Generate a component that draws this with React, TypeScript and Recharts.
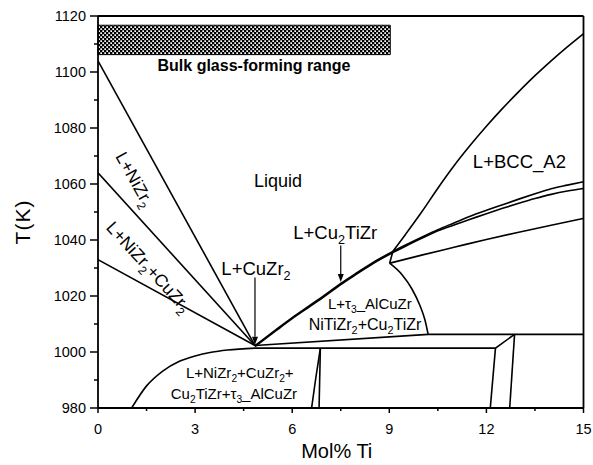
import React from 'react';
import {
    ComposedChart, Line, XAxis, YAxis, ReferenceArea, ReferenceLine, ReferenceDot
} from 'recharts';

const FONT = '"Liberation Sans", Arial, Helvetica, sans-serif';

// axis ticks (majors get a label, the rest are minor marks)
const xTicks = [0, 1.5, 3, 4.5, 6, 7.5, 9, 10.5, 12, 13.5, 15];
const yTicks = [980, 990, 1000, 1010, 1020, 1030, 1040, 1050, 1060, 1070, 1080, 1090, 1100, 1110, 1120];

// phase boundaries, x = mol% Ti, t = temperature (K)
const liqNiZr2 = [{ x: 0, t: 1104 }, { x: 4.85, t: 1002.3 }];
const liqNiZr2CuZr2 = [{ x: 0, t: 1064 }, { x: 4.85, t: 1002.3 }];
const liqCuZr2 = [{ x: 0, t: 1033 }, { x: 4.85, t: 1002.3 }];
const liqCu2TiZrA = [
    { x: 4.85, t: 1002.3 }, { x: 5.5, t: 1008 }, { x: 6, t: 1012.3 }, { x: 6.5, t: 1016.3 },
    { x: 7, t: 1020.3 }, { x: 7.5, t: 1024.5 }, { x: 8, t: 1028.3 }, { x: 8.5, t: 1032 },
    { x: 9.11, t: 1035.9 }, { x: 9.5, t: 1038.2 }, { x: 10, t: 1041 }, { x: 10.5, t: 1043.7 },
    { x: 11, t: 1046.1 }, { x: 11.5, t: 1048.5 }, { x: 12, t: 1050.6 }, { x: 12.5, t: 1052.6 },
    { x: 13, t: 1054.6 }, { x: 13.5, t: 1056.5 }, { x: 14, t: 1058.3 }, { x: 14.5, t: 1059.6 },
    { x: 15, t: 1060.8 },
];
const liqCu2TiZrB = [
    { x: 4.85, t: 1001.9 }, { x: 5.5, t: 1007.6 }, { x: 6, t: 1011.9 }, { x: 6.5, t: 1015.9 },
    { x: 7, t: 1019.9 }, { x: 7.5, t: 1024.1 }, { x: 8, t: 1027.9 }, { x: 8.5, t: 1031.6 },
    { x: 9.11, t: 1035.5 }, { x: 9.5, t: 1037.8 }, { x: 10, t: 1040.6 }, { x: 10.5, t: 1043.3 },
    { x: 11, t: 1045.4 }, { x: 11.5, t: 1047.4 }, { x: 12, t: 1049.4 }, { x: 12.5, t: 1051.3 },
    { x: 13, t: 1053.1 }, { x: 13.5, t: 1054.8 }, { x: 14, t: 1056.3 }, { x: 14.5, t: 1057.5 },
    { x: 15, t: 1058.4 },
];
const liqBcc = [
    { x: 9.11, t: 1035.9 }, { x: 9.5, t: 1042 }, { x: 10, t: 1050 }, { x: 10.5, t: 1058.5 },
    { x: 11, t: 1066.5 }, { x: 11.5, t: 1073.8 }, { x: 12, t: 1080.6 }, { x: 12.5, t: 1087 },
    { x: 13, t: 1093 }, { x: 13.5, t: 1098.7 }, { x: 14, t: 1104 }, { x: 14.5, t: 1109 },
    { x: 15, t: 1113.7 },
];
const tau3Upper = [
    { x: 9.01, t: 1031.7 }, { x: 10, t: 1034.6 }, { x: 11, t: 1037.4 }, { x: 12, t: 1040.2 },
    { x: 13, t: 1042.8 }, { x: 14, t: 1045.3 }, { x: 15, t: 1047.7 },
];
const junction = [{ x: 9.01, t: 1031.7 }, { x: 9.11, t: 1035.9 }];
const tau3Right = [
    { x: 9.01, t: 1031.7 }, { x: 9.4, t: 1027.5 }, { x: 9.7, t: 1022.5 }, { x: 9.95, t: 1016.5 },
    { x: 10.1, t: 1011.5 }, { x: 10.2, t: 1006.3 },
];
const upperSolidus = [{ x: 4.85, t: 1002.3 }, { x: 10.2, t: 1006.3 }, { x: 15, t: 1006.3 }];
const lowerSolidusCurve = [
    { x: 1.04, t: 980 }, { x: 1.5, t: 987.9 }, { x: 2, t: 993.2 }, { x: 2.5, t: 996.6 },
    { x: 3, t: 998.6 }, { x: 3.5, t: 999.9 }, { x: 4, t: 1000.7 }, { x: 4.85, t: 1001.4 },
];
const lowerSolidus = [{ x: 4.85, t: 1001.4 }, { x: 12.28, t: 1001.4 }, { x: 12.87, t: 1006.3 }];
const solvus1 = [{ x: 6.6, t: 980 }, { x: 6.72, t: 990 }, { x: 6.8, t: 996 }, { x: 6.87, t: 1001.4 }];
const solvus2 = [{ x: 6.83, t: 980 }, { x: 6.87, t: 1001.4 }];
const solvus3 = [{ x: 12.12, t: 980 }, { x: 12.28, t: 1001.4 }];
const solvus4 = [{ x: 12.72, t: 980 }, { x: 12.87, t: 1006.3 }];

const straightLines = [liqNiZr2, liqNiZr2CuZr2, liqCuZr2, junction, upperSolidus, lowerSolidus, solvus2, solvus3, solvus4];
const curvedLines = [liqCu2TiZrA, liqCu2TiZrB, liqBcc, tau3Upper, tau3Right, lowerSolidusCurve, solvus1];

// glass-forming range band
const glassRange = { x1: 0, x2: 9.03, t1: 1106.2, t2: 1116.7 };

// arrows: [from, to]
const arrows = [
    [{ x: 4.85, y: 1026.6 }, { x: 4.85, y: 1002.6 }],
    [{ x: 7.5, y: 1038 }, { x: 7.5, y: 1025 }],
];

// region labels, {n} = subscript
const notes = [
    { text: 'Bulk glass-forming range', x: 4.82, t: 1102.2, size: 16, bold: true, angle: 0 },
    { text: 'Liquid', x: 5.56, t: 1061.3, size: 18, angle: 0 },
    { text: 'L+BCC_A2', x: 13.02, t: 1068, size: 18.5, angle: 0 },
    { text: 'L+NiZr{2}', x: 1.14, t: 1061.7, size: 17.5, angle: 61 },
    { text: 'L+NiZr{2}+CuZr{2}', x: 1.57, t: 1030.5, size: 17.5, angle: 47.5 },
    { text: 'L+CuZr{2}', x: 4.88, t: 1029.9, size: 18.5, angle: 0 },
    { text: 'L+Cu{2}TiZr', x: 7.33, t: 1042.7, size: 18.5, angle: 0 },
    { text: 'L+τ{3}_AlCuZr', x: 8.4, t: 1017.4, size: 15, angle: 0 },
    { text: 'NiTiZr{2}+Cu{2}TiZr', x: 8.25, t: 1010, size: 16, angle: 0 },
    { text: 'L+NiZr{2}+CuZr{2}+', x: 4.38, t: 992.6, size: 15, angle: 0 },
    { text: 'Cu{2}TiZr+τ{3}_AlCuZr', x: 4.2, t: 985.2, size: 15, angle: 0 },
];

const RichText = ({ cx, cy, text, size, bold, angle }: any) => {
    const pieces = text.split(/(\{[^}]*\})/).filter((p: string) => p.length);
    let shifted = false;
    const spans = pieces.map((p: string, i: number) => {
        const sub = p.startsWith('{');
        let dy = 0;
        if (sub && !shifted) { dy = size * 0.3; shifted = true; }
        else if (!sub && shifted) { dy = -size * 0.3; shifted = false; }
        return (
            <tspan key={i} dy={dy} fontSize={sub ? size * 0.68 : size}>
                {sub ? p.slice(1, -1) : p}
            </tspan>
        );
    });
    return (
        <text x={cx} y={cy + size * 0.35} textAnchor="middle" fontFamily={FONT}
            fontWeight={bold ? 'bold' : 'normal'} fill="#000"
            transform={angle ? `rotate(${angle} ${cx} ${cy})` : undefined}>
            {spans}
        </text>
    );
};

const Arrow = ({ x1, y1, x2, y2 }: any) => {
    const len = Math.hypot(x2 - x1, y2 - y1) || 1;
    const ux = (x2 - x1) / len, uy = (y2 - y1) / len;
    const bx = x2 - ux * 8, by = y2 - uy * 8;
    return (
        <g>
            <line x1={x1} y1={y1} x2={bx} y2={by} stroke="#000" strokeWidth={1.2} />
            <polygon
                points={`${x2},${y2} ${bx - uy * 3},${by + ux * 3} ${bx + uy * 3},${by - ux * 3}`}
                fill="#000"
            />
        </g>
    );
};

const XTick = ({ x, y, payload }: any) => {
    const major = payload.value % 3 === 0;
    return (
        <g>
            <line x1={x} y1={y} x2={x} y2={y + (major ? 5 : 3)} stroke="#000" strokeWidth={1.5} />
            {major && (
                <text x={x} y={y + 26} textAnchor="middle" fontSize={14.5} fontFamily={FONT} fill="#000">
                    {payload.value}
                </text>
            )}
        </g>
    );
};

const YTick = ({ x, y, payload }: any) => {
    const major = payload.value % 20 === 0;
    return (
        <g>
            <line x1={x - (major ? 8 : 4)} y1={y} x2={x} y2={y} stroke="#000" strokeWidth={1.5} />
            {major && (
                <text x={x - 12} y={y + 5} textAnchor="end" fontSize={14.5} fontFamily={FONT} fill="#000">
                    {payload.value}
                </text>
            )}
        </g>
    );
};

const YTitle = ({ viewBox }: any) => {
    const cx = viewBox.x + 22;
    const cy = viewBox.y + viewBox.height / 2 + 10;
    return (
        <text x={cx} y={cy} transform={`rotate(-90 ${cx} ${cy})`} textAnchor="middle"
            dominantBaseline="central" fontSize={21} letterSpacing={1} fontFamily={FONT} fill="#000">
            T(K)
        </text>
    );
};

const XTitle = ({ viewBox }: any) => {
    const cx = viewBox.x + viewBox.width / 2 - 4;
    const cy = viewBox.y + 43;
    return (
        <text x={cx} y={cy} textAnchor="middle" dominantBaseline="central"
            fontSize={20} fontFamily={FONT} fill="#000">
            Mol% Ti
        </text>
    );
};

const PhaseDiagram: React.FC = () => {
    return (
        <div style={{ position: 'absolute', left: 0, top: 0, background: '#fff' }}>
            <ComposedChart width={593} height={465} margin={{ top: 16, right: 9.5, left: 0, bottom: 0 }}>
                <defs>
                    <pattern id="xhatch" width="4" height="4" patternUnits="userSpaceOnUse">
                        <rect width="4" height="4" fill="#000" />
                        <rect x="0.3" y="0.3" width="1.7" height="1.7" fill="#fff" />
                        <rect x="2.3" y="2.3" width="1.7" height="1.7" fill="#fff" />
                    </pattern>
                </defs>
                <XAxis type="number" dataKey="x" domain={[0, 15]} ticks={xTicks} interval={0}
                    allowDataOverflow height={57} tickSize={0} tickMargin={0} tickLine={false}
                    tick={<XTick />} axisLine={{ stroke: '#000', strokeWidth: 1.8 }}
                    label={<XTitle />} />
                <YAxis type="number" domain={[980, 1120]} ticks={yTicks} interval={0}
                    allowDataOverflow width={98} tickSize={0} tickMargin={0} tickLine={false}
                    tick={<YTick />} axisLine={{ stroke: '#000', strokeWidth: 1.8 }}
                    label={<YTitle />} />
                <ReferenceLine y={1120} stroke="#000" strokeWidth={1.8} />
                <ReferenceLine x={15} stroke="#000" strokeWidth={1.8} />
                <ReferenceArea x1={glassRange.x1} x2={glassRange.x2} y1={glassRange.t1} y2={glassRange.t2}
                    fill="url(#xhatch)" fillOpacity={1} stroke="#000" strokeWidth={1} />
                {straightLines.map((d, i) => (
                    <Line key={`s${i}`} data={d} dataKey="t" type="linear" stroke="#000" strokeWidth={1.6}
                        dot={false} activeDot={false} isAnimationActive={false} legendType="none" />
                ))}
                {curvedLines.map((d, i) => (
                    <Line key={`c${i}`} data={d} dataKey="t" type="monotone" stroke="#000" strokeWidth={1.6}
                        dot={false} activeDot={false} isAnimationActive={false} legendType="none" />
                ))}
                {arrows.map((seg, i) => (
                    <ReferenceLine key={`a${i}`} segment={seg} shape={(p: any) => <Arrow {...p} />} />
                ))}
                {notes.map((n, i) => (
                    <ReferenceDot key={`n${i}`} x={n.x} y={n.t} r={0}
                        shape={(p: any) => <RichText cx={p.cx} cy={p.cy} text={n.text} size={n.size} bold={n.bold} angle={n.angle} />} />
                ))}
            </ComposedChart>
        </div>
    );
};

export default function App() {
    return <PhaseDiagram />;
}
